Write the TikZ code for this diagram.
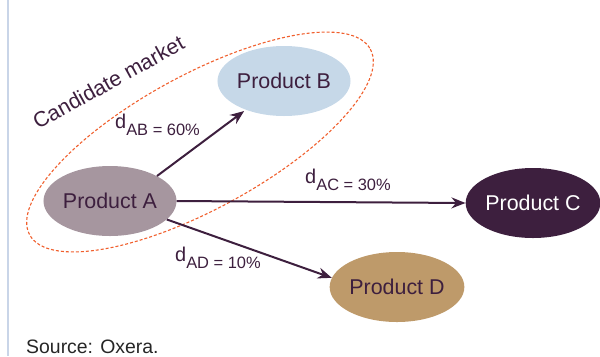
\documentclass[tikz,border=0pt]{standalone}
\usepackage{fontspec}
\setmainfont{Liberation Sans}
\usetikzlibrary{arrows.meta,shapes.geometric}
\definecolor{oxpurple}{HTML}{3D1F3E}
\definecolor{prodagray}{HTML}{A6969F}
\definecolor{prodbblue}{HTML}{C6D8E8}
\definecolor{proddtan}{HTML}{BE9A6A}
\definecolor{marketred}{HTML}{F0602E}
\definecolor{rulegray}{HTML}{C9D5E8}
\newcommand{\dsub}[2]{d\raisebox{-7.5bp}{\fontsize{16.5}{18}\selectfont #1 = #2\%}}

\begin{document}
\begin{tikzpicture}[
    x=1bp, y=-1bp,
    >=Stealth,
    prod/.style={ellipse, draw=none, minimum width=126bp, minimum height=70bp,
      inner sep=0pt, font=\fontsize{21.5}{25}\selectfont, text=oxpurple},
    link/.style={-{Stealth[length=14bp,width=11bp]}, line width=2bp, oxpurple},
    market/.style={dash pattern=on 3bp off 2bp, line width=1.1bp, marketred},
    lbl/.style={font=\fontsize{20}{23}\selectfont, text=oxpurple, inner sep=0pt}
  ]
  \useasboundingbox (0,0) rectangle (600,356);
  \draw[rulegray, line width=1.2bp] (8,0) -- (8,356);

  % Candidate market boundary
  \draw[market, rotate around={28.6:(200,142)}] (200,142) ellipse [x radius=194, y radius=67];
  \node[lbl, font=\fontsize{21.5}{25}\selectfont, anchor=base west, rotate=29] (mkt) at (38,130) {Candidate market};

  % Products
  \node[prod, fill=prodagray] (prodA) at (110,201) {Product A};
  \node[prod, fill=prodbblue] (prodB) at (284,81) {Product B};
  \node[prod, fill=oxpurple, text=white] (prodC) at (533,203) {Product C};
  \node[prod, fill=proddtan] (prodD) at (397,287) {Product D};

  % Diversion links
  \draw[link, shorten >=2bp] (prodA.28) -- (prodB.217);
  \draw[link] (prodA.east) -- (prodC.west);
  \draw[link] (prodA.-18) -- (prodD.172);

  % Diversion ratios
  \node[lbl, anchor=base west] (dab) at (115,128) {\dsub{AB}{60}};
  \node[lbl, anchor=base west] (dac) at (305,183) {\dsub{AC}{30}};
  \node[lbl, anchor=base west] (dad) at (175,261) {\dsub{AD}{10}};

  % Source
  \node[lbl, font=\fontsize{19.5}{23}\selectfont, anchor=base west, text=black!85] (src) at (26,353) {Source: Oxera.};
\end{tikzpicture}
\end{document}
